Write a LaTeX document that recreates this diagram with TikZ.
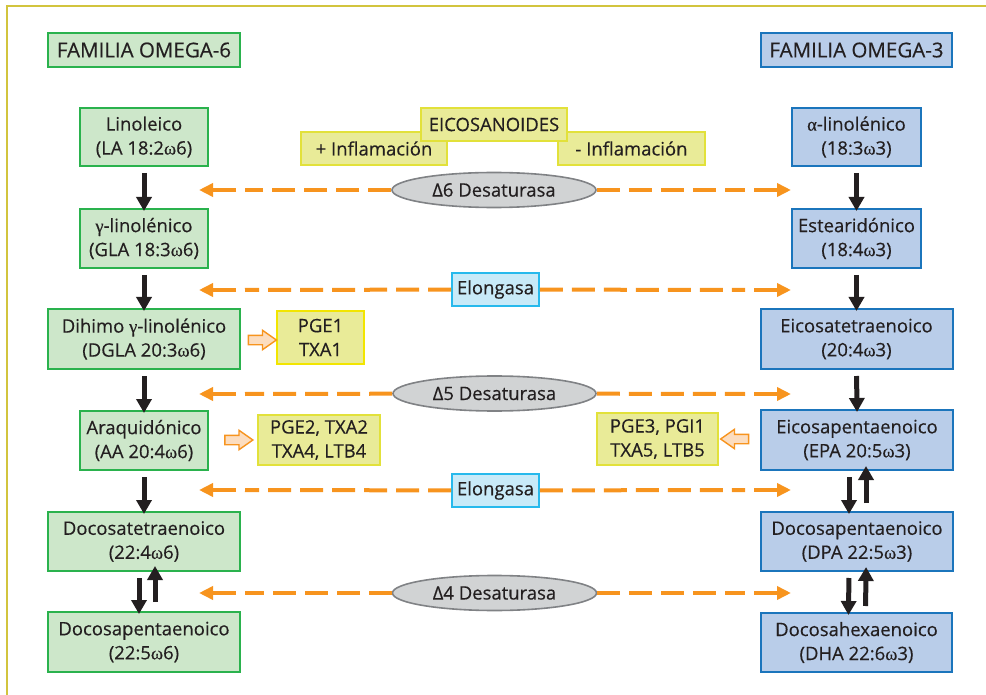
\documentclass[tikz,border=0pt]{standalone}
\usepackage{fontspec}
\setmainfont{Open Sans}[FakeBold=0.35]
\newfontfamily\greekserif{Liberation Serif}[FakeBold=0.35]
\usetikzlibrary{arrows.meta,shapes.geometric,shapes.arrows}

\definecolor{txtc}{HTML}{231F20}
\definecolor{framec}{HTML}{D2C43D}
\definecolor{gfill}{HTML}{CDE7CA}
\definecolor{gline}{HTML}{2AB24D}
\definecolor{bfill}{HTML}{B9CDE9}
\definecolor{bline}{HTML}{1B75BC}
\definecolor{yfill}{HTML}{E9EB98}
\definecolor{yline}{HTML}{E2E13A}
\definecolor{ylinebright}{HTML}{F2E500}
\definecolor{cfill}{HTML}{C8EAF8}
\definecolor{cline}{HTML}{27B9EC}
\definecolor{efill}{HTML}{D1D3D4}
\definecolor{eline}{HTML}{808285}
\definecolor{orangec}{HTML}{F7941E}
\definecolor{peach}{HTML}{FCDDBF}

\newcommand{\gk}[1]{{\greekserif #1}}

\tikzset{
  box/.style={draw, line width=2pt, align=center, inner sep=0pt, text=txtc,
              font=\fontsize{18.5}{24}\selectfont},
  om6/.style={box, fill=gfill, draw=gline},
  om3/.style={box, fill=bfill, draw=bline},
  head/.style={minimum height=34pt, font=\fontsize{20.5}{24}\selectfont},
  ybox/.style={box, fill=yfill, draw=yline, line width=1.6pt},
  ybright/.style={box, fill=yfill, draw=ylinebright, line width=1.6pt},
  enzbox/.style={box, fill=cfill, draw=cline, line width=1.6pt},
  enzell/.style={box, ellipse, fill=efill, draw=eline, line width=1.6pt},
  blk/.style={line width=5pt, draw=txtc, -{Triangle[length=14pt,width=15pt]},
              shorten <=6pt, shorten >=-3pt},
  odash/.style={draw=orangec, line width=4pt, dash pattern=on 23pt off 9pt},
  otip/.style={draw=orangec, line width=4pt, -{Triangle[length=14pt,width=13pt]}},
  hollow/.style={single arrow, draw=orangec, fill=peach, line width=1.4pt,
                 minimum height=28pt, inner sep=4pt, single arrow head extend=5pt,
                 single arrow tip angle=70}
}

\begin{document}
\begin{tikzpicture}[x=1pt,y=-1pt]
\useasboundingbox (0,0) rectangle (986,695);

% outer frame
\draw[framec, line width=2pt] (7,695) -- (7,6) -- (986,6);

% family headers
\node[om6, head, minimum width=192pt] (h6) at (144,50) {FAMILIA OMEGA-6};
\node[om3, head, minimum width=191pt] (h3) at (856.5,50) {FAMILIA OMEGA-3};

% omega-6 column
\node[om6, minimum width=128pt, minimum height=58pt] (la)   at (144,137)   {Linoleico\\(LA 18:2\gk{ω}6)};
\node[om6, minimum width=128pt, minimum height=59pt] (gla)  at (144,238.5) {\gk{γ}-linolénico\\(GLA 18:3\gk{ω}6)};
\node[om6, minimum width=192pt, minimum height=60pt] (dgla) at (144,339)   {Dihimo \gk{γ}-linolénico\\(DGLA 20:3\gk{ω}6)};
\node[om6, minimum width=128pt, minimum height=59pt] (aa)   at (144,440.5) {Araquidónico\\(AA 20:4\gk{ω}6)};
\node[om6, minimum width=192pt, minimum height=59pt] (dst)  at (144,541.5) {Docosatetraenoico\\(22:4\gk{ω}6)};
\node[om6, minimum width=192pt, minimum height=60pt] (dpe6) at (144,642)   {Docosapentaenoico\\(22:5\gk{ω}6)};

% omega-3 column
\node[om3, minimum width=129pt, minimum height=58pt] (ala) at (856.5,137)   {\gk{α}-linolénico\\(18:3\gk{ω}3)};
\node[om3, minimum width=129pt, minimum height=59pt] (sda) at (856.5,238.5) {Estearidónico\\(18:4\gk{ω}3)};
\node[om3, minimum width=192pt, minimum height=60pt] (eta) at (856.5,339)   {Eicosatetraenoico\\(20:4\gk{ω}3)};
\node[om3, minimum width=192pt, minimum height=60pt] (epa) at (857,440)     {Eicosapentaenoico\\(EPA 20:5\gk{ω}3)};
\node[om3, minimum width=192pt, minimum height=59pt] (dpa) at (857,541.5)   {Docosapentaenoico\\(DPA 22:5\gk{ω}3)};
\node[om3, minimum width=191pt, minimum height=59pt] (dha) at (856.5,642.5) {Docosahexaenoico\\(DHA 22:6\gk{ω}3)};

% eicosanoid products
\node[ybright, minimum width=87pt,  minimum height=53pt] (pge1) at (320.5,337.5) {PGE1\\TXA1};
\node[ybox,    minimum width=122pt, minimum height=50pt] (pge2) at (319,440)     {PGE2, TXA2\\TXA4, LTB4};
\node[ybox,    minimum width=121pt, minimum height=52pt] (pge3) at (657.5,439)   {PGE3, PGI1\\TXA5, LTB5};

% eicosanoid legend
\node[ybox, minimum width=146pt, minimum height=33pt] (infp) at (374,148.5)   {+ Inflamación};
\node[ybox, minimum width=147pt, minimum height=33pt] (infm) at (631.5,148.5) {- Inflamación};
\node[ybox, minimum width=146pt, minimum height=33pt] (eico) at (494,124.5)   {EICOSANOIDES};

% enzymes
\node[enzell, minimum width=204pt, minimum height=35pt] (d6)  at (494,190)     {Δ6 Desaturasa};
\node[enzbox, minimum width=87pt,  minimum height=33pt] (el1) at (495.5,289.5) {Elongasa};
\node[enzell, minimum width=203pt, minimum height=35pt] (d5)  at (494.5,393.5) {Δ5 Desaturasa};
\node[enzbox, minimum width=87pt,  minimum height=33pt] (el2) at (495.5,490.5) {Elongasa};
\node[enzell, minimum width=204pt, minimum height=35pt] (d4)  at (494.5,593)   {Δ4 Desaturasa};

% enzyme arrows: dashed run from the enzyme, solid final stretch with the tip
\coordinate (l1) at (199,190);   \coordinate (r1) at (791,190);
\coordinate (l2) at (199,290);   \coordinate (r2) at (791,290);
\coordinate (l3) at (199,394);   \coordinate (r3) at (791,394);
\coordinate (l4) at (199,490);   \coordinate (r4) at (791,490);
\coordinate (l5) at (199,593);   \coordinate (r5) at (791,593);

\foreach \e/\i in {d6/1, el1/2, d5/3, el2/4, d4/5}{
  \draw[odash] (\e) -- ([xshift=46pt]l\i);
  \draw[odash] (\e) -- ([xshift=-46pt]r\i);
  \draw[otip] ([xshift=37pt]l\i) -- (l\i);
  \draw[otip] ([xshift=-37pt]r\i) -- (r\i);
}

% omega-6 pathway
\draw[blk] (la.south)   -- (gla.north);
\draw[blk] (gla.south)  -- (dgla.north);
\draw[blk] (dgla.south) -- (aa.north);
\draw[blk] (aa.south)   -- (dst.north);
\draw[blk] ([xshift=-5pt]dst.south) -- ([xshift=-5pt]dpe6.north);
\draw[blk, shorten <=9pt, shorten >=-6pt] ([xshift=11pt]dpe6.north) -- ([xshift=11pt]dst.south);

% omega-3 pathway
\draw[blk] (ala.south) -- (sda.north);
\draw[blk] (sda.south) -- (eta.north);
\draw[blk] (eta.south) -- (epa.north);
\draw[blk] ([xshift=-8pt]epa.south) -- ([xshift=-8pt]dpa.north);
\draw[blk, shorten <=8pt, shorten >=-5pt] ([xshift=9pt]dpa.north) -- ([xshift=9pt]epa.south);
\draw[blk] ([xshift=-8pt]dpa.south) -- ([xshift=-8pt]dha.north);
\draw[blk, shorten <=6pt, shorten >=-5pt] ([xshift=9pt]dha.north) -- ([xshift=9pt]dpa.south);

% eicosanoid production arrows
\node[hollow] (a1) at (259,340) {};
\node[hollow] (a2) at (235.5,440) {};
\node[hollow, shape border rotate=180] (a3) at (738,439) {};
\end{tikzpicture}
\end{document}
